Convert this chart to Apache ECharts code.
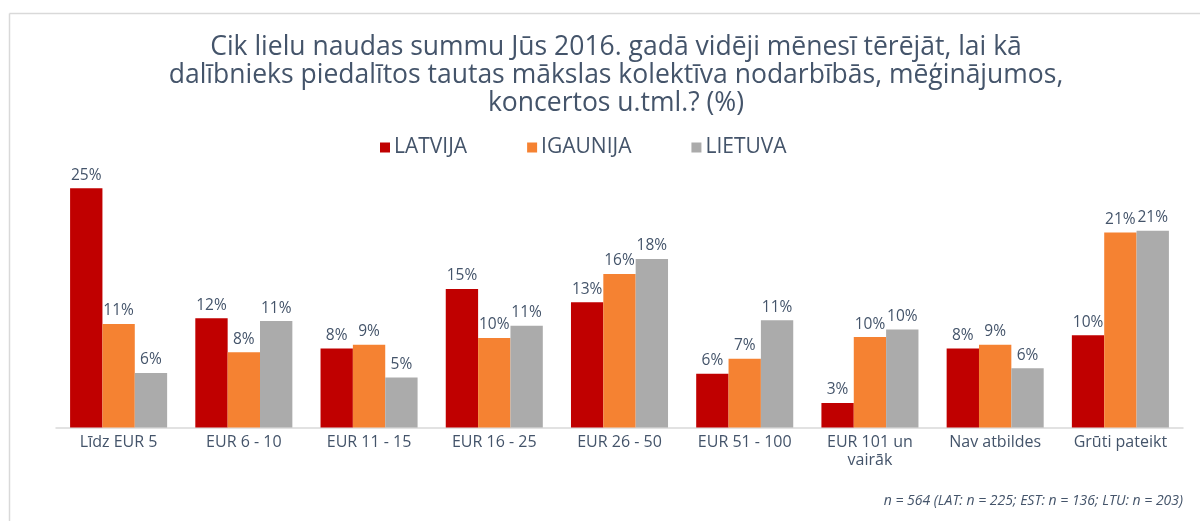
<!DOCTYPE html>
<html>
<head>
<meta charset="utf-8">
<script src="https://cdn.jsdelivr.net/npm/echarts@6/dist/echarts.min.js"></script>
<style>
html,body{margin:0;padding:0;background:#fff;}
#chart{width:1200px;height:521px;}
</style>
</head>
<body>
<div id="chart"></div>
<script>
const titleText = 'Cik lielu naudas summu Jūs 2016. gadā vidēji mēnesī tērējāt, lai kā\ndalībnieks piedalītos tautas mākslas kolektīva nodarbībās, mēģinājumos,\nkoncertos u.tml.? (%)';
const footnote = 'n = 564 (LAT: n = 225; EST: n = 136; LTU: n = 203)';
const categories = ['Līdz EUR 5', 'EUR 6 - 10', 'EUR 11 - 15', 'EUR 16 - 25', 'EUR 26 - 50', 'EUR 51 - 100', 'EUR 101 un\nvairāk', 'Nav atbildes', 'Grūti pateikt'];
const seriesNames = ['LATVIJA', 'IGAUNIJA', 'LIETUVA'];
const latvija = [25.4, 11.6, 8.4, 14.7, 13.3, 5.7, 2.6, 8.4, 9.8];
const igaunija = [11.0, 8.0, 8.8, 9.5, 16.3, 7.3, 9.6, 8.8, 20.7];
const lietuva = [5.8, 11.3, 5.3, 10.8, 17.9, 11.4, 10.4, 6.3, 20.9];
const colors = ['#C00000', '#F58232', '#ABABAB'];

const textColor = '#44546A';
const font = '"Open Sans", "Liberation Sans", sans-serif';

const chart = echarts.init(document.getElementById('chart'));
const allData = [latvija, igaunija, lietuva];
chart.setOption({
  animation: false,
  color: colors,
  title: {
    text: titleText,
    left: 611,
    textAlign: 'center',
    top: 28,
    textStyle: {fontFamily: font, fontSize: 26.5, fontWeight: 'normal', color: textColor, lineHeight: 28}
  },
  legend: {
    top: 132,
    left: 375,
    itemWidth: 10,
    itemHeight: 10,
    itemGap: 60,
    icon: 'rect',
    textStyle: {fontFamily: font, fontSize: 21, color: textColor, padding: [0, 0, 0, -1]},
    data: seriesNames
  },
  grid: {left: 56, right: 17, top: 145, bottom: 93.5},
  xAxis: {
    type: 'category',
    data: categories,
    axisLine: {lineStyle: {color: '#D9D9D9', width: 1.5}},
    axisTick: {show: false},
    axisLabel: {fontFamily: font, fontSize: 16, color: textColor, margin: 6, lineHeight: 18, interval: 0}
  },
  yAxis: {
    type: 'value', min: 0, max: 30,
    show: false,
    splitLine: {show: false}
  },
  graphic: [
    {type: 'line', shape: {x1: 9.5, y1: 13.5, x2: 1200, y2: 13.5}, style: {stroke: '#D9D9D9', lineWidth: 1.5}},
    {type: 'line', shape: {x1: 9.5, y1: 13.5, x2: 9.5, y2: 521}, style: {stroke: '#D9D9D9', lineWidth: 1.5}},
    {type: 'text', right: 17, top: 494, style: {text: footnote, fontFamily: font, fontSize: 14, fontStyle: 'italic', fill: textColor}}
  ],
  series: seriesNames.map((name, i) => ({
    name: name,
    type: 'bar',
    data: allData[i],
    barGap: '0%',
    barCategoryGap: '22.5%',
    label: {
      show: true,
      position: 'top',
      distance: 5,
      fontFamily: font,
      fontSize: 15.5,
      color: textColor,
      formatter: p => Math.round(p.value) + '%'
    }
  }))
});
</script>
</body>
</html>
